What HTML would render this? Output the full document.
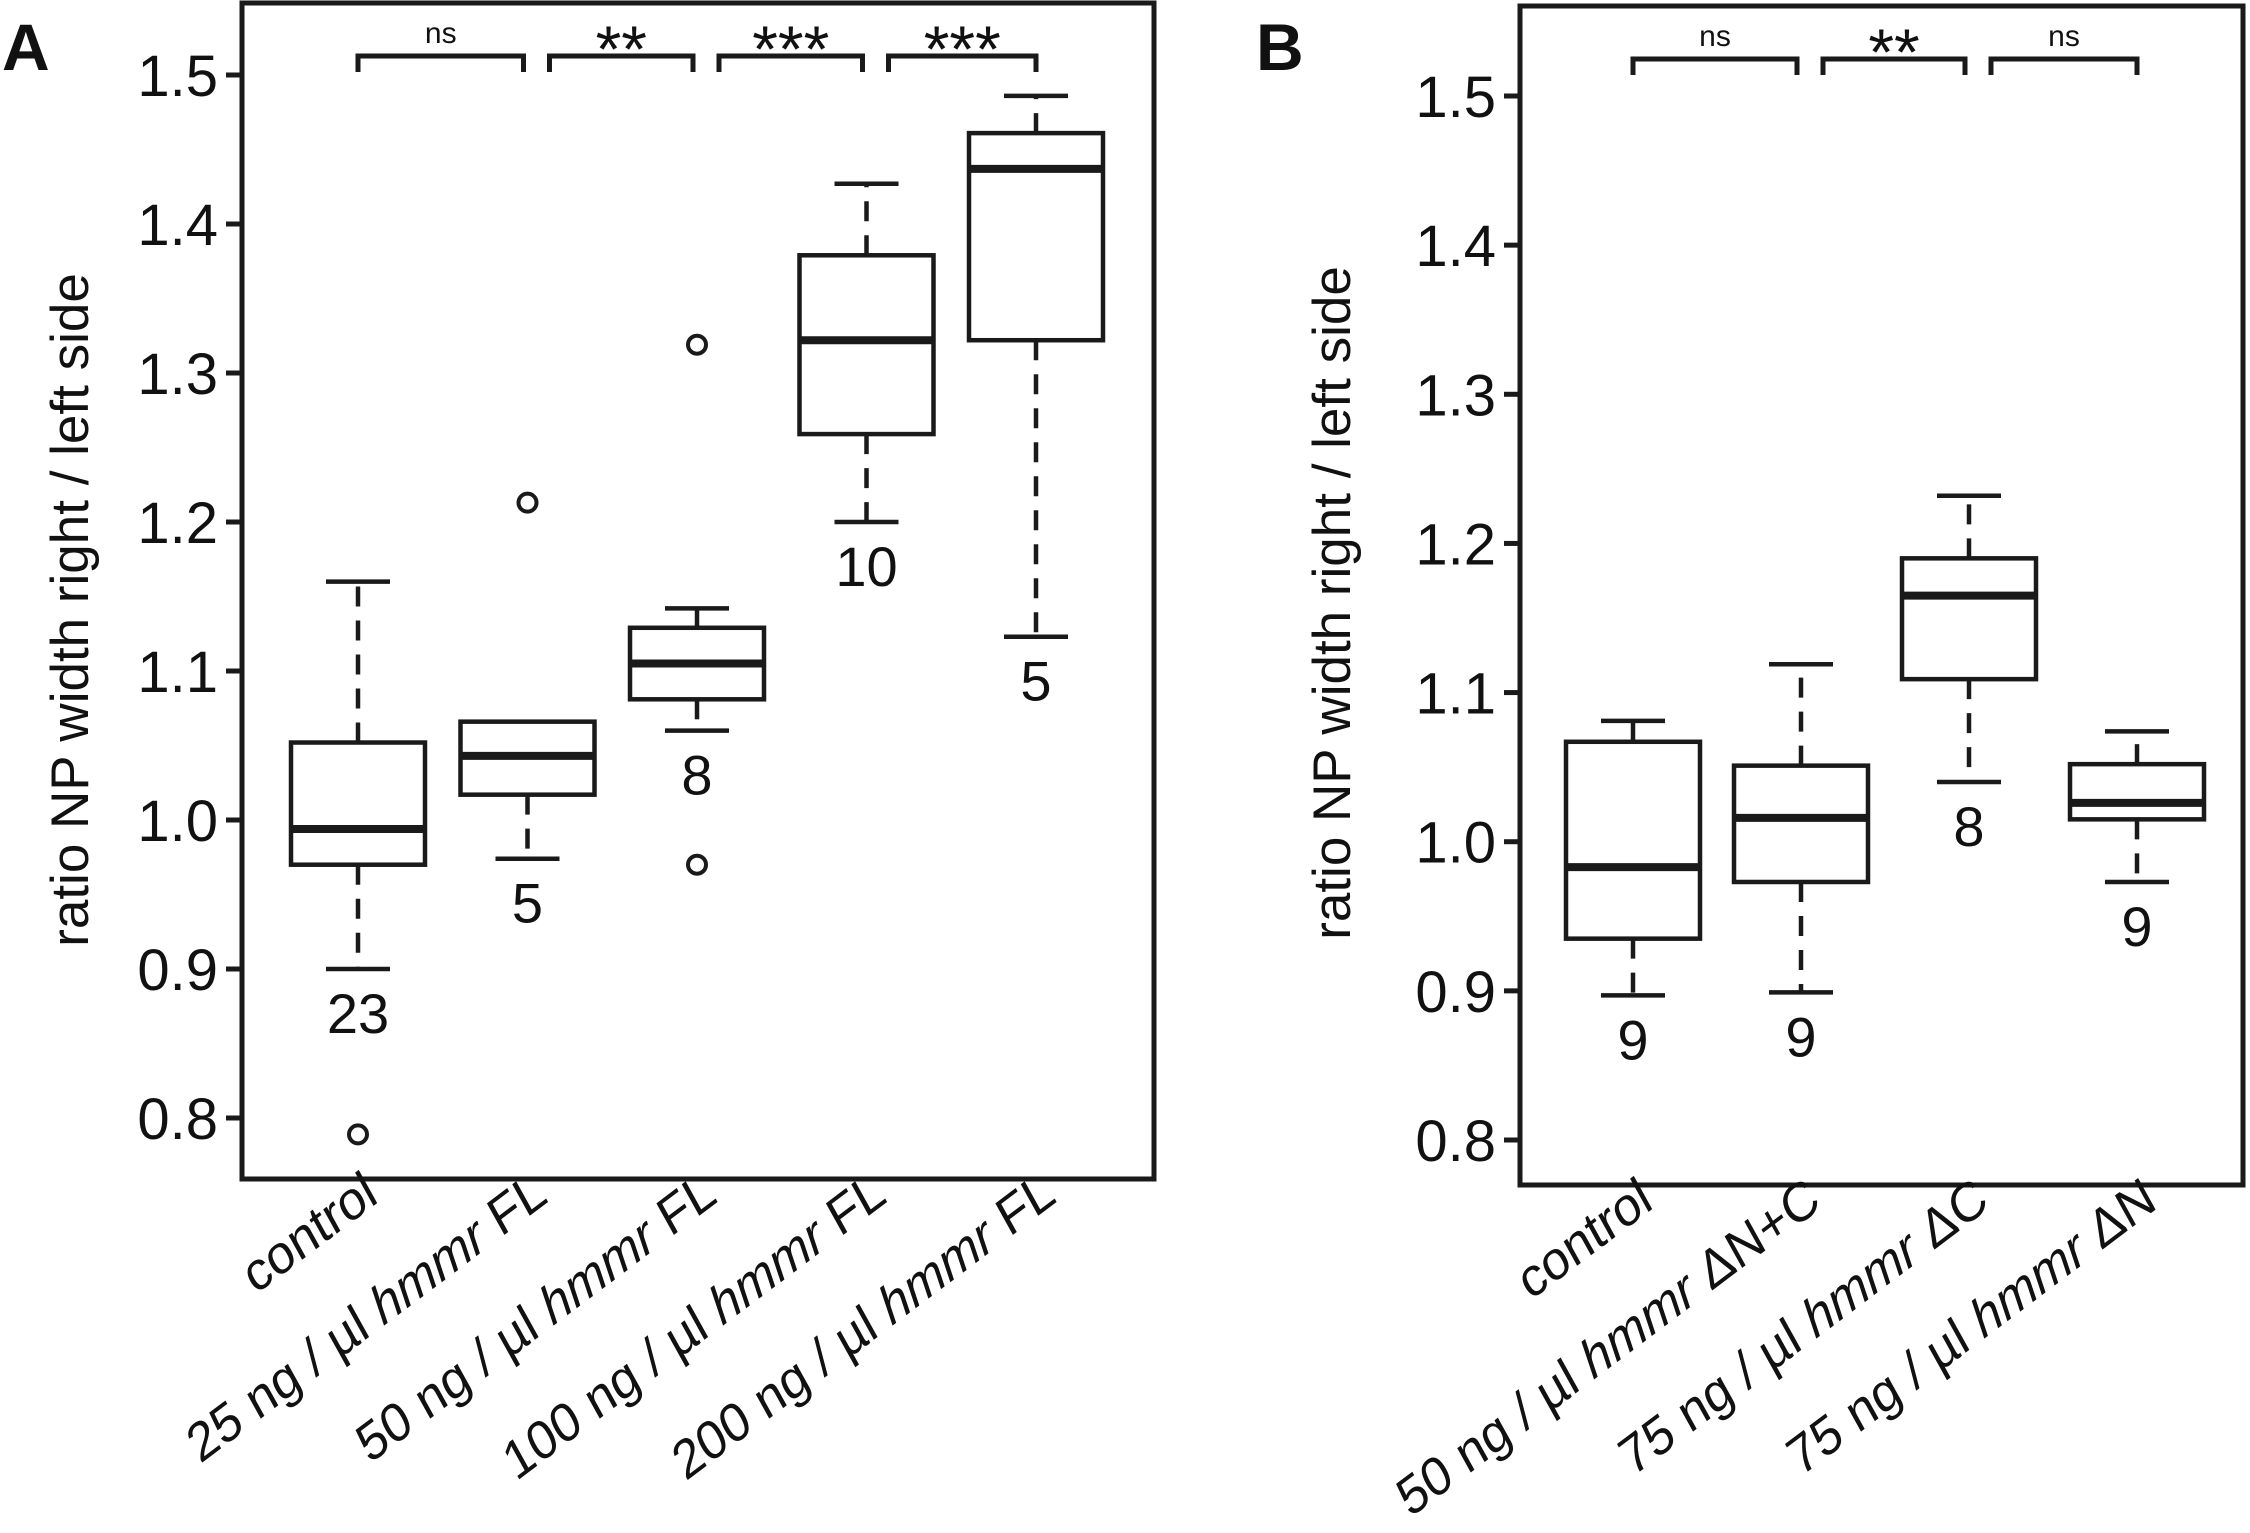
<!DOCTYPE html>
<html><head><meta charset="utf-8"><style>
html,body{margin:0;padding:0;background:#fff;}
svg{display:block;font-family:"Liberation Sans",Arial,sans-serif;}
</style></head><body>
<svg id="fig" width="2250" height="1533" viewBox="0 0 2250 1533" xmlns="http://www.w3.org/2000/svg"></svg>
<script>
// Panel A data
const catsA = ["control","25 ng / µl |hmmr| FL","50 ng / µl |hmmr| FL","100 ng / µl |hmmr| FL","200 ng / µl |hmmr| FL"];
const lowA = [0.900,0.974,1.060,1.200,1.123];
const q1A = [0.970,1.017,1.081,1.259,1.322];
const medA = [0.994,1.043,1.105,1.322,1.437];
const q3A = [1.052,1.066,1.129,1.379,1.461];
const highA = [1.160,1.066,1.142,1.427,1.486];
const outA = [[0.789],[1.213],[1.319,0.970],[],[]];
const nA = ["23","5","8","10","5"];
const sigA = ["ns","**","***","***"];
// Panel B data
const catsB = ["control","50 ng / µl |hmmr| ΔN+C","75 ng / µl |hmmr| ΔC","75 ng / µl |hmmr| ΔN"];
const lowB = [0.897,0.899,1.040,0.973];
const q1B = [0.935,0.973,1.109,1.015];
const medB = [0.983,1.016,1.165,1.026];
const q3B = [1.067,1.051,1.190,1.052];
const highB = [1.081,1.119,1.232,1.074];
const outB = [[],[],[],[]];
const nB = ["9","9","8","9"];
const sigB = ["ns","**","ns"];
const ticks = [0.8,0.9,1.0,1.1,1.2,1.3,1.4,1.5];
const tickLabels = ["0.8","0.9","1.0","1.1","1.2","1.3","1.4","1.5"];

const NS="http://www.w3.org/2000/svg";
const svg=document.getElementById('fig');
function el(tag,attrs,parent){const e=document.createElementNS(NS,tag);for(const k in attrs)e.setAttribute(k,attrs[k]);(parent||svg).appendChild(e);return e;}

function panel(P){
  const g=el('g',{});
  
  
  const y=v=>P.y15+(1.5-v)*(P.y08-P.y15)/0.7;
  const x=i=>P.x0+i*P.dx;
  const fr=el('rect',{x:P.L,y:P.T,width:P.R-P.L,height:P.B-P.T,fill:'none',stroke:'#1a1a1a','stroke-width':5},g);
  
  
  const lt=el('text',{x:P.letterX,y:70,'font-size':66,'font-weight':'bold',fill:'#111'},g);
  lt.textContent=P.letter;
  
  
  ticks.forEach((t,i)=>{
    const tk=el('line',{x1:P.L-16,x2:P.L,y1:y(t),y2:y(t),stroke:'#1a1a1a','stroke-width':5},g);
    
    
    const tl=el('text',{x:P.L-24,y:y(t)+21,'font-size':58,'text-anchor':'end',fill:'#111'},g);
    tl.textContent=tickLabels[i];
    
    
  });
  const at=el('text',{x:0,y:0,'font-size':53,'text-anchor':'middle',fill:'#111',transform:`translate(${P.titleX},${P.titleY}) rotate(-90)`},g);
  at.textContent='ratio NP width right / left side';
  
  
  const hw=67, cw=32;
  P.cats.forEach((c,i)=>{
    const bg=el('g',{},g);
    
    
    const cx=x(i);
    if(P.high[i]>P.q3[i]+0.003){
      el('line',{x1:cx,x2:cx,y1:y(P.q3[i]),y2:y(P.high[i]),stroke:'#1a1a1a','stroke-width':4.5,'stroke-dasharray':'20 14'},bg);
      el('line',{x1:cx-cw,x2:cx+cw,y1:y(P.high[i]),y2:y(P.high[i]),stroke:'#1a1a1a','stroke-width':4.5},bg);
    }
    el('line',{x1:cx,x2:cx,y1:y(P.q1[i]),y2:y(P.low[i]),stroke:'#1a1a1a','stroke-width':4.5,'stroke-dasharray':'20 14'},bg);
    el('line',{x1:cx-cw,x2:cx+cw,y1:y(P.low[i]),y2:y(P.low[i]),stroke:'#1a1a1a','stroke-width':4.5},bg);
    el('rect',{x:cx-hw,y:y(P.q3[i]),width:2*hw,height:y(P.q1[i])-y(P.q3[i]),fill:'#fff',stroke:'#1a1a1a','stroke-width':4.5},bg);
    el('line',{x1:cx-hw,x2:cx+hw,y1:y(P.med[i]),y2:y(P.med[i]),stroke:'#1a1a1a','stroke-width':8},bg);
    P.out[i].forEach(o=>{
      const oc=el('circle',{cx:cx,cy:y(o),r:9,fill:'none',stroke:'#1a1a1a','stroke-width':4},bg);
      
      
    });
    const nt=el('text',{x:cx,y:y(P.low[i])+64,'font-size':56,'text-anchor':'middle',fill:'#111'},bg);
    nt.textContent=P.n[i];
    
    
    // x label
    const parts=c.split('|');
    const xt=el('text',{x:0,y:0,'font-size':52,'text-anchor':'end',fill:'#111',transform:`translate(${cx+22},${P.B+22}) rotate(-37) skewX(-8)`},g);
    parts.forEach((p,k)=>{const s=el('tspan',k===1?{'font-style':'italic'}:{},xt);s.textContent=p;});
    
    
  });
  P.sig.forEach((s,i)=>{
    const x1=x(i)+(i>0?22:0), x2=x(i+1)-(i<P.sig.length-1?4:0);
    const br=el('path',{d:`M${x1},${P.brY+16} V${P.brY} H${x2} V${P.brY+16}`,fill:'none',stroke:'#1a1a1a','stroke-width':5},g);
    
    
    const st=el('text',{x:(x1+x2)/2,y:s==='ns'?P.brY-13:P.brY+16,'font-size':s==='ns'?30:66,'text-anchor':'middle',fill:'#111'},g);
    st.textContent=s;
    
    
  });
}
panel({name:'panel-a',letter:'A',letterX:2,L:242,T:3,R:1154,B:1179,y15:75,y08:1118,x0:358,dx:169.5,
  cats:catsA,low:lowA,q1:q1A,med:medA,q3:q3A,high:highA,out:outA,n:nA,sig:sigA,brY:56,titleX:88,titleY:610});
panel({name:'panel-b',letter:'B',letterX:1256,L:1520,T:6,R:2243,B:1185,y15:96,y08:1140,x0:1633,dx:168,
  cats:catsB,low:lowB,q1:q1B,med:medB,q3:q3B,high:highB,out:outB,n:nB,sig:sigB,brY:59,titleX:1350,titleY:603});
</script>
</body></html>
